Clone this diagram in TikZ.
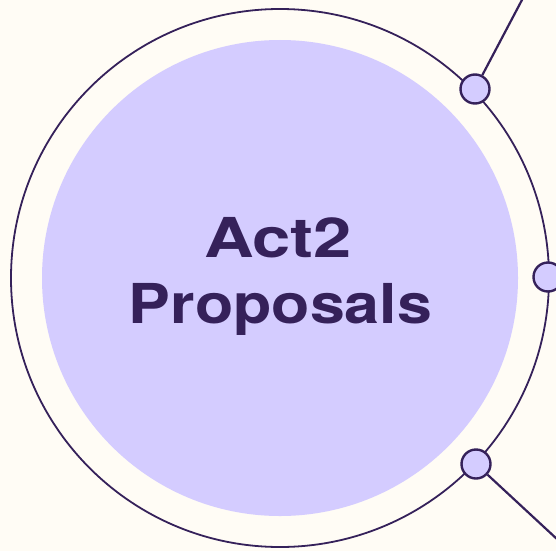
\documentclass[tikz,border=0pt]{standalone}
\usepackage{fontspec}
\setmainfont{TeX Gyre Heros}
\definecolor{bg}{HTML}{FFFCF5}
\definecolor{lav}{HTML}{D4CCFF}
\definecolor{ink}{HTML}{35215A}
\begin{document}
\begin{tikzpicture}[x=1pt,y=-1pt,
  ring/.style={draw=ink,line width=1.8pt},
  dot/.style={circle,draw=ink,fill=lav,line width=2.4pt,minimum size=29pt,inner sep=0pt},
  link/.style={draw=ink,line width=2.2pt},
  title/.style={text=ink,font=\bfseries\fontsize{55}{60}\selectfont,anchor=base,inner sep=0pt,transform shape}]
\useasboundingbox[fill=bg] (0,0) rectangle (556,551);
\coordinate (c) at (280,278);
\fill[lav] (c) circle[radius=238];
\draw[ring] (c) circle[radius=269];
\coordinate (e1) at (523,-2);
\coordinate (e3) at (558,540);
\node[dot] (d1) at (475,89) {};
\node[dot] (d2) at (548,277) {};
\node[dot] (d3) at (476,464) {};
\draw[link] (d1) -- (e1);
\draw[link] (d3) -- (e3);
\node[title,xscale=1.25] (t1) at (278,257) {Act2};
\node[title,xscale=1.14] (t2) at (280.5,323) {Proposals};
\end{tikzpicture}
\end{document}
